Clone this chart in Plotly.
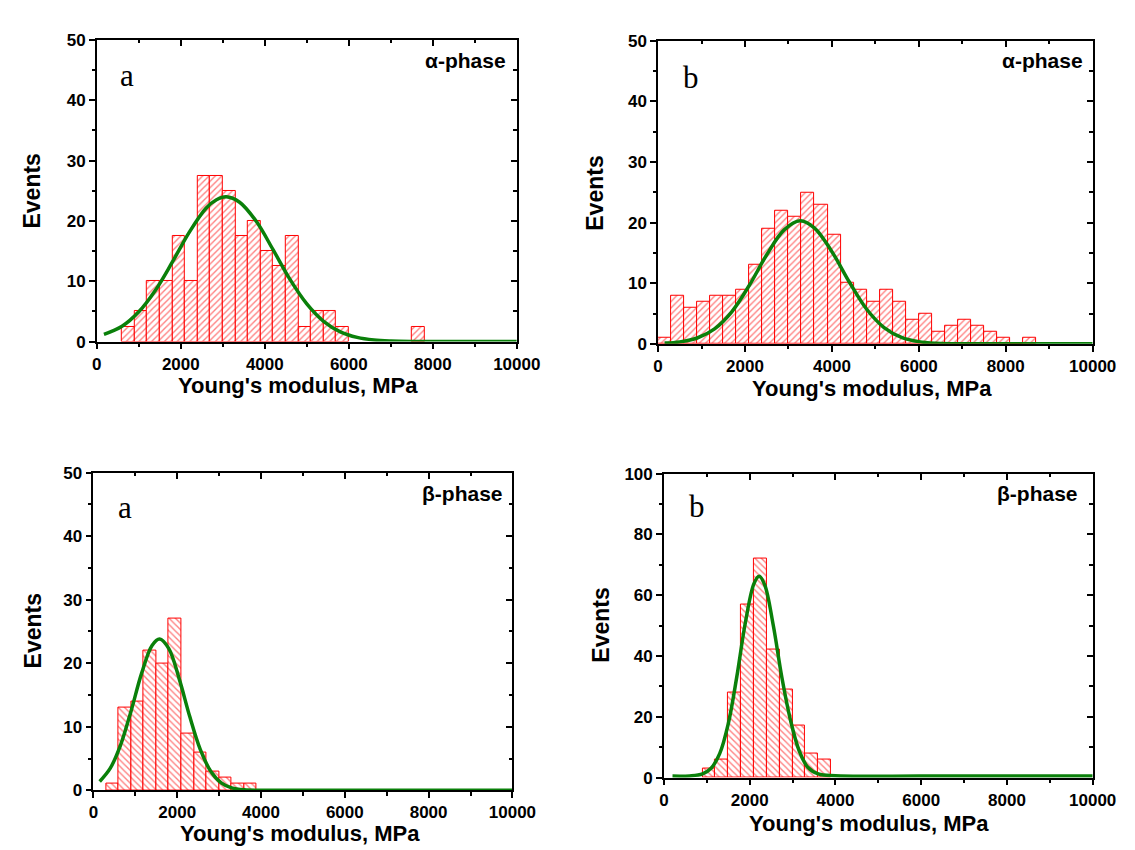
import plotly.graph_objects as go

W, H = 1135, 850

# ---------------- data ----------------
# Panel a, alpha-phase (top-left)
a_alpha_bins = [750, 1050, 1350, 1650, 1950, 2250, 2550, 2850, 3150, 3450,
                3750, 4050, 4350, 4650, 4950, 5250, 5550, 5850, 7650]
a_alpha_events = [2.5, 5, 10, 10, 17.5, 10, 27.5, 27.5, 25, 17.5,
                  20, 15, 12.5, 17.5, 2.5, 5, 5, 2.5, 2.5]
a_alpha_fit_x = [170, 600, 1000, 1400, 1800, 2200, 2600, 2850, 3080, 3400, 3800,
                 4200, 4600, 5000, 5400, 5800, 6200, 6600, 7000, 7500, 8500, 10000]
a_alpha_fit_y = [1.2, 2.54, 4.94, 8.56, 13.2, 18.1, 22.1, 23.5, 24.0, 23.1, 19.9,
                 15.2, 10.3, 6.24, 3.36, 1.61, 0.69, 0.26, 0.09, 0.02, 0.0, 0.0]

# Panel b, alpha-phase (top-right)
b_alpha_bins = [150, 450, 750, 1050, 1350, 1650, 1950, 2250, 2550, 2850,
                3150, 3450, 3750, 4050, 4350, 4650, 4950, 5250, 5550, 5850,
                6150, 6450, 6750, 7050, 7350, 7650, 7950, 8250, 8550]
b_alpha_events = [1, 8, 6, 7, 8, 8, 9, 13, 19, 22,
                  21, 25, 23, 18, 10, 9, 7, 9, 7, 4,
                  5, 2, 3, 4, 3, 2, 1, 0, 1]
b_alpha_fit_x = [150, 500, 900, 1300, 1700, 2100, 2500, 2900, 3270, 3600, 4000,
                 4400, 4800, 5200, 5600, 6000, 6400, 7000, 8000, 9000, 10000]
b_alpha_fit_y = [0.12, 0.32, 0.96, 2.48, 5.33, 9.66, 14.7, 18.8, 20.3, 19.1, 15.2,
                 10.2, 5.70, 2.69, 1.07, 0.36, 0.10, 0.01, 0.0, 0.0, 0.0]

# Panel a, beta-phase (bottom-left)
a_beta_bins = [450, 750, 1050, 1350, 1650, 1950, 2250, 2550, 2850, 3150, 3450, 3750]
a_beta_events = [1, 13, 14, 22, 20, 27, 9, 6, 3, 2, 1, 1]
a_beta_fit_x = [150, 400, 650, 900, 1150, 1400, 1580, 1800, 2050, 2300, 2550,
                2800, 3050, 3300, 3600, 4000, 6000, 8000, 10000]
a_beta_fit_y = [1.39, 3.44, 7.16, 12.5, 18.4, 22.8, 23.8, 22.3, 17.5, 11.6, 6.44,
                3.01, 1.18, 0.39, 0.08, 0.01, 0.0, 0.0, 0.0]

# Panel b, beta-phase (bottom-right)
b_beta_bins = [1050, 1350, 1650, 1950, 2250, 2550, 2850, 3150, 3450, 3750]
b_beta_events = [3, 6, 28, 57, 72, 42, 29, 17, 8, 6]
b_beta_fit_x = [200, 600, 900, 1100, 1300, 1500, 1700, 1900, 2100, 2220, 2350,
                2550, 2750, 2950, 3150, 3350, 3600, 4000, 6000, 8000, 10000]
b_beta_fit_y = [0.5, 0.57, 1.23, 3.08, 7.88, 17.7, 33.2, 51.0, 63.8, 66.2, 63.4,
                50.1, 33.0, 19.0, 9.0, 3.5, 1.2, 0.6, 0.5, 0.5, 0.5]

bin_width = 300
x_ticks_step = 2000

# ---------------- layout helpers ----------------
def fx(p):
    return p / W


def fy(p):
    return 1 - p / H


panels = [
    dict(bins=a_alpha_bins, ev=a_alpha_events, fx_=a_alpha_fit_x, fy_=a_alpha_fit_y,
         xpx=(86, 517), ypx=(23.5, 332), ymax=50, ydt=10, hatch='/',
         letter='a', letter_pos=(117, 60), phase='α-phase', phase_pos=(508, 45),
         ev_pos=(20, 178), xt_pos=(292, 377)),
    dict(bins=b_alpha_bins, ev=b_alpha_events, fx_=b_alpha_fit_x, fy_=b_alpha_fit_y,
         xpx=(662, 1108), ypx=(24.3, 334.3), ymax=50, ydt=10, hatch='/',
         letter='b', letter_pos=(696, 62), phase='α-phase', phase_pos=(1100, 45),
         ev_pos=(597, 180), xt_pos=(882, 380)),
    dict(bins=a_beta_bins, ev=a_beta_events, fx_=a_beta_fit_x, fy_=a_beta_fit_y,
         xpx=(82.5, 512.5), ypx=(466, 791), ymax=50, ydt=10, hatch='\\',
         letter='a', letter_pos=(115, 502), phase='β-phase', phase_pos=(505, 487),
         ev_pos=(20, 628), xt_pos=(295, 835)),
    dict(bins=b_beta_bins, ev=b_beta_events, fx_=b_beta_fit_x, fy_=b_beta_fit_y,
         xpx=(668, 1108), ypx=(467, 778), ymax=100, ydt=20, hatch='\\',
         letter='b', letter_pos=(702, 501), phase='β-phase', phase_pos=(1095, 487),
         ev_pos=(604, 622), xt_pos=(878, 825)),
]

tickfont = dict(family='Liberation Sans', size=17, color='black', weight='bold')
GREEN = '#0a800a'

fig = go.Figure()
layout = dict(
    width=W, height=H, margin=dict(l=0, r=0, t=0, b=0),
    paper_bgcolor='white', plot_bgcolor='white',
    bargap=0, showlegend=False, annotations=[],
)

for i, p in enumerate(panels):
    n = i + 1
    sfx = '' if n == 1 else str(n)
    ox, oy = str(n + 4), str(n + 4)
    xa, ya = 'x' + sfx, 'y' + sfx

    fig.add_trace(go.Bar(
        x=p['bins'], y=p['ev'], width=bin_width, xaxis=xa, yaxis=ya,
        marker=dict(color='white', line=dict(color='red', width=1),
                    pattern=dict(shape=p['hatch'], fgcolor='red', bgcolor='white',
                                 size=4.5, solidity=0.3)),
        hoverinfo='skip'))
    fig.add_trace(go.Scatter(
        x=p['fx_'], y=p['fy_'], mode='lines', xaxis=xa, yaxis=ya,
        line=dict(color=GREEN, width=3.5, shape='spline', smoothing=1.0),
        hoverinfo='skip'))
    fig.add_trace(go.Scatter(x=[None], y=[None], xaxis='x' + ox, yaxis='y' + oy,
                             showlegend=False, hoverinfo='skip'))

    common = dict(showgrid=False, zeroline=False, fixedrange=True)
    layout['xaxis' + sfx] = dict(
        domain=[fx(p['xpx'][0]), fx(p['xpx'][1])], anchor=ya, range=[0, 10000],
        tickmode='linear', tick0=0, dtick=x_ticks_step, tickformat='d',
        ticks='outside', ticklen=6,
        tickwidth=1.5, tickcolor='black', showline=True, linecolor='black',
        linewidth=1.5, mirror=True, tickfont=tickfont,
        minor=dict(dtick=x_ticks_step / 2, ticks='outside', ticklen=3.5,
                   tickwidth=1.5, tickcolor='black', showgrid=False), **common)
    layout['yaxis' + sfx] = dict(
        domain=[fy(p['ypx'][1]), fy(p['ypx'][0])], anchor=xa, range=[0, p['ymax']],
        tickmode='linear', tick0=0, dtick=p['ydt'], tickformat='d',
        ticks='outside', ticklen=6,
        tickwidth=1.5, tickcolor='black', showline=True, linecolor='black',
        linewidth=1.5, mirror=True, tickfont=tickfont,
        minor=dict(dtick=p['ydt'] / 2, ticks='outside', ticklen=3.5,
                   tickwidth=1.5, tickcolor='black', showgrid=False), **common)
    layout['xaxis' + ox] = dict(
        overlaying=xa, side='top', anchor='y' + oy, range=[0, 10000],
        tickmode='linear', tick0=0, dtick=x_ticks_step, ticks='inside', ticklen=6,
        tickwidth=1.5, tickcolor='black', showline=False, showticklabels=False,
        minor=dict(dtick=x_ticks_step / 2, ticks='inside', ticklen=3.5,
                   tickwidth=1.5, tickcolor='black', showgrid=False), **common)
    layout['yaxis' + oy] = dict(
        overlaying=ya, side='right', anchor='x' + ox, range=[0, p['ymax']],
        tickmode='linear', tick0=0, dtick=p['ydt'], ticks='inside', ticklen=6,
        tickwidth=1.5, tickcolor='black', showline=False, showticklabels=False,
        minor=dict(dtick=p['ydt'] / 2, ticks='inside', ticklen=3.5,
                   tickwidth=1.5, tickcolor='black', showgrid=False), **common)

    ann = layout['annotations']
    ann.append(dict(text=p['letter'], x=fx(p['letter_pos'][0]), y=fy(p['letter_pos'][1]),
                    xref='paper', yref='paper', showarrow=False, xanchor='center',
                    yanchor='middle',
                    font=dict(family='Liberation Serif', size=31, color='black')))
    ann.append(dict(text='<b>' + p['phase'] + '</b>', x=fx(p['phase_pos'][0]),
                    y=fy(p['phase_pos'][1]), xref='paper', yref='paper',
                    showarrow=False, xanchor='right', yanchor='middle',
                    font=dict(family='Liberation Sans', size=21, color='black')))
    ann.append(dict(text='<b>Events</b>', x=fx(p['ev_pos'][0]), y=fy(p['ev_pos'][1]),
                    xref='paper', yref='paper', showarrow=False, textangle=-90,
                    xanchor='center', yanchor='middle',
                    font=dict(family='Liberation Sans', size=23, color='black')))
    ann.append(dict(text="<b>Young's modulus, MPa</b>", x=fx(p['xt_pos'][0]),
                    y=fy(p['xt_pos'][1]), xref='paper', yref='paper',
                    showarrow=False, xanchor='center', yanchor='middle',
                    font=dict(family='Liberation Sans', size=22, color='black')))

fig.update_layout(**layout)
fig.write_html("out.html")
